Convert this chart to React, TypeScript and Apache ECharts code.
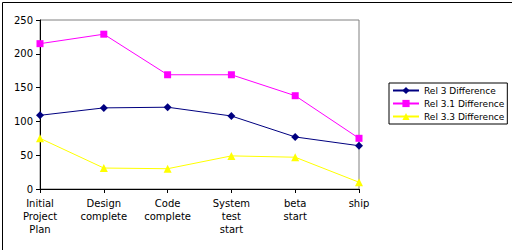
import React, { useEffect, useRef } from "react";
import * as echarts from "echarts";

const categories = ["Initial\nProject\nPlan", "Design\ncomplete", "Code\ncomplete", "System\ntest\nstart", "beta\nstart", "ship"];
const rel3 = [109, 120, 121, 108, 77, 64];
const rel31 = [215, 229, 169, 169, 138, 75];
const rel33 = [75, 31, 30, 49, 47, 10];
const seriesNames = ["Rel 3 Difference", "Rel 3.1 Difference", "Rel 3.3 Difference"];

export default function App() {
  const ref = useRef<HTMLDivElement>(null);
  useEffect(() => {
    const chart = echarts.init(ref.current!, null, { renderer: "svg" });
    const font = "DejaVu Sans";
    chart.setOption({
      animation: false,
      backgroundColor: "#fff",
      textStyle: { fontFamily: font },
      grid: { left: 40, right: 153, top: 20, bottom: 61, show: true, borderColor: "#808080", borderWidth: 1 },
      xAxis: {
        type: "category",
        data: categories,
        boundaryGap: false,
        axisLine: { lineStyle: { color: "#000", width: 1 } },
        axisTick: { show: true, alignWithLabel: true, length: 4, lineStyle: { color: "#000" } },
        axisLabel: { color: "#000", fontSize: 10, fontFamily: font, lineHeight: 13, margin: 8, interval: 0 },
        splitLine: { show: false },
      },
      yAxis: {
        type: "value",
        min: 0,
        max: 250,
        interval: 50,
        axisLine: { show: true, lineStyle: { color: "#000", width: 1 } },
        axisTick: { show: true, length: 4, lineStyle: { color: "#000" } },
        axisLabel: { color: "#000", fontSize: 10, fontFamily: font, margin: 7 },
        splitLine: { show: false },
      },
      legend: {
        orient: "vertical",
        left: 389,
        top: 83,
        padding: [3, 3, 3, 3],
        itemGap: 4,
        itemWidth: 26,
        itemHeight: 9,
        borderColor: "#000",
        borderWidth: 1,
        textStyle: { color: "#000", fontSize: 9, fontFamily: font },
        data: seriesNames,
      },
      series: [
        { name: seriesNames[0], type: "line", data: rel3, color: "#000080", symbol: "diamond", symbolSize: 8, lineStyle: { width: 1, color: "#000080" }, itemStyle: { color: "#000080" } },
        { name: seriesNames[1], type: "line", data: rel31, color: "#ff00ff", symbol: "rect", symbolSize: 7, lineStyle: { width: 1, color: "#ff00ff" }, itemStyle: { color: "#ff00ff" } },
        { name: seriesNames[2], type: "line", data: rel33, color: "#ffff00", symbol: "triangle", symbolSize: 8, lineStyle: { width: 1, color: "#ffff00" }, itemStyle: { color: "#ffff00" } },
      ],
      graphic: [
        { type: "rect", left: 0, top: 0, shape: { x: 0.5, y: 0.5, width: 510, height: 248 }, style: { fill: "none", stroke: "#000", lineWidth: 1 }, silent: true },
      ],
    });
    return () => chart.dispose();
  }, []);
  return <div ref={ref} style={{ position: "fixed", left: 0, top: 0, width: 512, height: 250 }} />;
}
